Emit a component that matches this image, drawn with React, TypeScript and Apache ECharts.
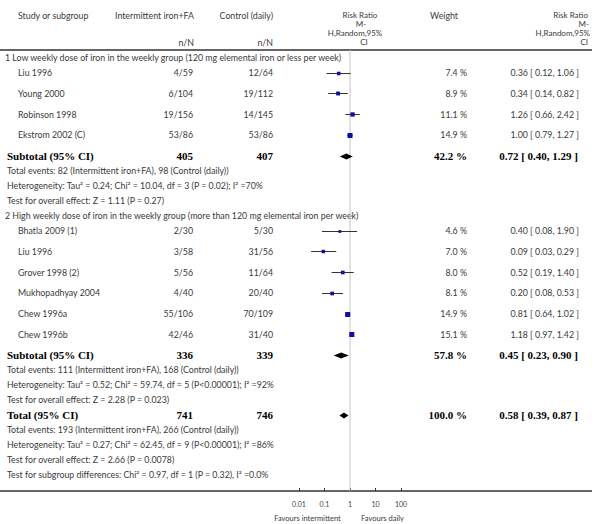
import React, { useEffect, useRef } from "react";
import * as echarts from "echarts";

// ---------- data ----------
const groupTitles = [
  "1 Low weekly dose of iron in the weekly group (120 mg elemental iron or less per week)",
  "2 High weekly dose of iron in the weekly group (more than 120 mg elemental iron per week)",
];
const studyNames = [
  "Liu 1996", "Young 2000", "Robinson 1998", "Ekstrom 2002 (C)",
  "Bhatla 2009 (1)", "Liu 1996", "Grover 1998 (2)", "Mukhopadhyay 2004", "Chew 1996a", "Chew 1996b",
];
const studyGroup = [0, 0, 0, 0, 1, 1, 1, 1, 1, 1];
const interventionNN = ["4/59", "6/104", "19/156", "53/86", "2/30", "3/58", "5/56", "4/40", "55/106", "42/46"];
const controlNN = ["12/64", "19/112", "14/145", "53/86", "5/30", "31/56", "11/64", "20/40", "70/109", "31/40"];
const studyWeight = [7.4, 8.9, 11.1, 14.9, 4.6, 7.0, 8.0, 8.1, 14.9, 15.1];
const studyRR = [0.36, 0.34, 1.26, 1.0, 0.4, 0.09, 0.52, 0.2, 0.81, 1.18];
const studyLo = [0.12, 0.14, 0.66, 0.79, 0.08, 0.03, 0.19, 0.08, 0.64, 0.97];
const studyHi = [1.06, 0.82, 2.42, 1.27, 1.9, 0.29, 1.4, 0.53, 1.02, 1.42];

const pooledLabels = ["Subtotal (95% CI)", "Subtotal (95% CI)", "Total (95% CI)"];
const pooledIntN = [405, 336, 741];
const pooledCtlN = [407, 339, 746];
const pooledWeight = [42.2, 57.8, 100.0];
const pooledRR = [0.72, 0.45, 0.58];
const pooledLo = [0.4, 0.23, 0.39];
const pooledHi = [1.29, 0.9, 0.87];

const pooledNotes = [
  [
    "Total events: 82 (Intermittent iron+FA), 98 (Control (daily))",
    "Heterogeneity: Tau² = 0.24; Chi² = 10.04, df = 3 (P = 0.02); I² =70%",
    "Test for overall effect: Z = 1.11 (P = 0.27)",
  ],
  [
    "Total events: 111 (Intermittent iron+FA), 168 (Control (daily))",
    "Heterogeneity: Tau² = 0.52; Chi² = 59.74, df = 5 (P<0.00001); I² =92%",
    "Test for overall effect: Z = 2.28 (P = 0.023)",
  ],
  [
    "Total events: 193 (Intermittent iron+FA), 266 (Control (daily))",
    "Heterogeneity: Tau² = 0.27; Chi² = 62.45, df = 9 (P<0.00001); I² =86%",
    "Test for overall effect: Z = 2.66 (P = 0.0078)",
    "Test for subgroup differences: Chi² = 0.97, df = 1 (P = 0.32), I² =0.0%",
  ],
];

const xTicks = [0.01, 0.1, 1, 10, 100];
const favourLabels = ["Favours intermittent", "Favours daily"];
const effectHeader = ["Risk Ratio", "M-", "H,Random,95%", "CI"];

// ---------- layout ----------
const TITLE_STEP = 0.75;
const ROW_STEP = 1;
const NOTE_STEP = 0.72;
const Y_MIN = -0.35;
const GRID_TOP = 50;
const GRID_BOTTOM_Y = 491;
const UNIT_PX = 20.7;
const Y_MAX = Y_MIN + (GRID_BOTTOM_Y - GRID_TOP) / UNIT_PX;

const X_NAME = 18;
const X_NOTE = 7;
const X_TITLE = 5;
const X_INT = 194;
const X_CTL = 273;
const X_WEIGHT = 467;
const X_CI = 579;

type Row =
  | { kind: "title"; u: number; text: string }
  | { kind: "study"; u: number; i: number }
  | { kind: "pooled"; u: number; i: number }
  | { kind: "note"; u: number; text: string };

function buildRows(): Row[] {
  const rows: Row[] = [];
  let u = 0;
  for (let g = 0; g < groupTitles.length; g++) {
    if (g > 0) u += NOTE_STEP;
    rows.push({ kind: "title", u, text: groupTitles[g] });
    u += TITLE_STEP;
    let first = true;
    for (let i = 0; i < studyNames.length; i++) {
      if (studyGroup[i] !== g) continue;
      if (!first) u += ROW_STEP;
      first = false;
      rows.push({ kind: "study", u, i });
    }
    u += ROW_STEP;
    rows.push({ kind: "pooled", u, i: g });
    for (const t of pooledNotes[g]) {
      u += NOTE_STEP;
      rows.push({ kind: "note", u, text: t });
    }
  }
  u += NOTE_STEP;
  rows.push({ kind: "pooled", u, i: 2 });
  for (const t of pooledNotes[2]) {
    u += NOTE_STEP;
    rows.push({ kind: "note", u, text: t });
  }
  return rows;
}

const fmt2 = (v: number) => v.toFixed(2);
const ciText = (r: number, l: number, h: number) => `${fmt2(r)} [ ${fmt2(l)}, ${fmt2(h)} ]`;

const SANS = "Lato";
const SERIF = "Liberation Serif";
const TXT = "#3a3a3a";
const FS = 8.8;

function txt(x: number, y: number, text: string, align: string, bold = false, size?: number) {
  return {
    type: "text",
    x,
    y,
    silent: true,
    style: {
      text,
      align,
      verticalAlign: "middle",
      fill: bold ? "#000" : TXT,
      fontFamily: bold ? SERIF : SANS,
      fontWeight: bold ? "bold" : "normal",
      fontSize: size ?? (bold ? 11 : FS),
      lineHeight: size ?? (bold ? 11 : FS),
    },
  };
}

export default function App() {
  const ref = useRef<HTMLDivElement>(null);

  useEffect(() => {
    if (!ref.current) return;
    const chart = echarts.init(ref.current, undefined, { renderer: "svg" });
    const rows = buildRows();

    const markData: any[] = [];
    rows.forEach((r) => {
      if (r.kind === "study") {
        markData.push([studyRR[r.i], studyLo[r.i], studyHi[r.i], r.u, studyWeight[r.i], 0]);
      } else if (r.kind === "pooled") {
        markData.push([pooledRR[r.i], pooledLo[r.i], pooledHi[r.i], r.u, pooledWeight[r.i], 1]);
      }
    });

    const option: any = {
      animation: false,
      grid: { left: 299, width: 102, top: GRID_TOP, height: GRID_BOTTOM_Y - GRID_TOP },
      xAxis: {
        type: "log",
        logBase: 10,
        min: 0.01,
        max: 100,
        axisLine: { show: false, onZero: false },
        splitLine: { show: false },
        axisTick: { show: true, inside: true, length: 3, lineStyle: { color: "#333", width: 1 } },
        axisLabel: {
          margin: 9,
          fontSize: 7,
          color: "#444",
          fontFamily: SANS,
          formatter: (v: number) => {
            const t = xTicks.find((k) => Math.abs(Math.log10(k) - Math.log10(v)) < 1e-6);
            return t === undefined ? "" : String(t);
          },
        },
      },
      yAxis: {
        type: "value",
        inverse: true,
        min: Y_MIN,
        max: Y_MAX,
        show: false,
      },
      series: [
        {
          type: "line",
          data: [
            [1, Y_MIN],
            [1, Y_MAX],
          ],
          symbol: "none",
          lineStyle: { color: "#c4c4c4", width: 1 },
          silent: true,
          z: 1,
        },
        {
          type: "custom",
          data: markData,
          z: 3,
          silent: true,
          clip: false,
          renderItem: (params: any, api: any) => {
            const u = api.value(3);
            const p = api.coord([api.value(0), u]);
            const xl = api.coord([api.value(1), u])[0];
            const xh = api.coord([api.value(2), u])[0];
            const w = api.value(4);
            const kind = api.value(5);
            const yy = Math.round(p[1]) + 0.5;
            if (kind === 0) {
              const s = Math.max(1.5, 1.3 * Math.sqrt(w));
              return {
                type: "group",
                children: [
                  {
                    type: "line",
                    shape: { x1: xl, y1: yy, x2: xh, y2: yy },
                    style: { stroke: "#333", lineWidth: 1 },
                  },
                  {
                    type: "rect",
                    shape: { x: p[0] - s / 2, y: yy - s / 2, width: s, height: s },
                    style: { fill: "#1010a0" },
                  },
                ],
              };
            }
            const h = 3;
            return {
              type: "polygon",
              shape: {
                points: [
                  [xl, yy],
                  [p[0], yy - h],
                  [xh, yy],
                  [p[0], yy + h],
                ],
              },
              style: { fill: "#000" },
            };
          },
        },
      ],
    };
    chart.setOption(option);

    const yPx = (u: number) => chart.convertToPixel({ yAxisIndex: 0 }, u) as number;
    const xPx = (v: number) => chart.convertToPixel({ xAxisIndex: 0 }, v) as number;

    const g: any[] = [];
    // header
    const HF = 8;
    g.push(txt(18, 15, "Study or subgroup", "left"));
    g.push(txt(X_INT, 15, "Intermittent iron+FA", "right"));
    g.push(txt(X_CTL, 15, "Control (daily)", "right"));
    g.push(txt(X_INT, 42, "n/N", "right"));
    g.push(txt(X_CTL, 42, "n/N", "right"));
    const leftCenters = [360, 361, 355, 364];
    const rightEdges = [588, 589, 590, 588];
    const headerYs = [15, 24, 33, 42];
    effectHeader.forEach((t, k) => {
      g.push(txt(leftCenters[k], headerYs[k], t, "center", false, HF));
      g.push(txt(rightEdges[k], headerYs[k], t, "right", false, HF));
    });
    g.push(txt(458, 15, "Weight", "right"));
    g.push({
      type: "line",
      silent: true,
      shape: { x1: 0, y1: GRID_TOP, x2: 592, y2: GRID_TOP },
      style: { stroke: "#333", lineWidth: 1.5 },
    });
    g.push({
      type: "line",
      silent: true,
      shape: { x1: 0, y1: GRID_BOTTOM_Y, x2: 592, y2: GRID_BOTTOM_Y },
      style: { stroke: "#333", lineWidth: 1.5 },
    });

    rows.forEach((r) => {
      const y = yPx(r.u);
      if (r.kind === "title") {
        g.push(txt(X_TITLE, y, r.text, "left"));
      } else if (r.kind === "note") {
        g.push(txt(X_NOTE, y, r.text, "left"));
      } else if (r.kind === "study") {
        const i = r.i;
        g.push(txt(X_NAME, y, studyNames[i], "left"));
        g.push(txt(X_INT - 1, y, interventionNN[i], "right"));
        g.push(txt(X_CTL, y, controlNN[i], "right"));
        g.push(txt(X_WEIGHT, y, `${studyWeight[i].toFixed(1)} %`, "right"));
        g.push(txt(X_CI, y, ciText(studyRR[i], studyLo[i], studyHi[i]), "right"));
      } else {
        const i = r.i;
        g.push(txt(X_NOTE, y, pooledLabels[i], "left", true));
        g.push(txt(X_INT - 1, y, String(pooledIntN[i]), "right", true));
        g.push(txt(X_CTL, y, String(pooledCtlN[i]), "right", true));
        g.push(txt(X_WEIGHT, y, `${pooledWeight[i].toFixed(1)} %`, "right", true));
        g.push(txt(X_CI - 1, y, ciText(pooledRR[i], pooledLo[i], pooledHi[i]), "right", true));
      }
    });

    // favours labels, centred under each half of the scale
    const xMid = xPx(1);
    const xL = xPx(0.01);
    const xR = xPx(100);
    g.push(txt((xL + xMid) / 2 - 17, 518, favourLabels[0], "center", false, 7.5));
    g.push(txt((xR + xMid) / 2 + 7, 518, favourLabels[1], "center", false, 7.5));

    chart.setOption({ graphic: { elements: g } });

    return () => chart.dispose();
  }, []);

  return (
    <div
      ref={ref}
      style={{ position: "absolute", left: 0, top: 0, width: 600, height: 524 }}
    />
  );
}
